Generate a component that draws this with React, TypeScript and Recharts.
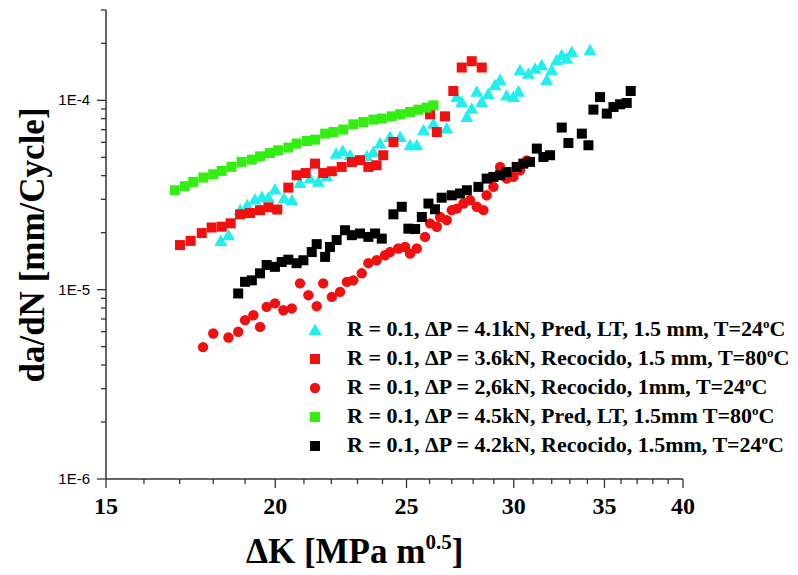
import React from "react";
import { ScatterChart, Scatter, XAxis, YAxis, Legend } from "recharts";

const SERIF = "'Liberation Serif', 'Times New Roman', serif";
const SANS = "'Liberation Sans', Arial, sans-serif";

const CYAN = "#22EEEE";
const RED = "#F01010";
const GREEN = "#33EE11";
const BLACK = "#000000";
const AXIS = "#333333";

// x ticks (ΔK), every integer, labels every 5
const xTicks = [15, 16, 17, 18, 19, 20, 21, 22, 23, 24, 25, 26, 27, 28, 29, 30, 31, 32, 33, 34, 35, 36, 37, 38, 39, 40];
const xLabeled = [15, 20, 25, 30, 35, 40];

// y ticks (da/dN), log decades with minor ticks
const yTicks = [
  1e-6, 2e-6, 3e-6, 4e-6, 5e-6, 6e-6, 7e-6, 8e-6, 9e-6,
  1e-5, 2e-5, 3e-5, 4e-5, 5e-5, 6e-5, 7e-5, 8e-5, 9e-5,
  1e-4, 2e-4, 3e-4,
];
const yLabeled = [1e-6, 1e-5, 1e-4];
const yLabels = ["1E-6", "1E-5", "1E-4"];

// [ΔK, da/dN]
const pred41kN24C: [number, number][] = [
  [18.23, 1.81e-5], [18.47, 1.94e-5], [18.84, 2.63e-5], [19.07, 2.79e-5], [19.32, 2.99e-5],
  [19.55, 3.09e-5], [19.77, 3.07e-5], [19.99, 3.38e-5], [20.3, 3.03e-5], [20.57, 2.97e-5],
  [20.86, 3.66e-5], [21.22, 3.86e-5], [21.52, 3.71e-5], [21.83, 3.97e-5], [22.18, 5.23e-5],
  [22.43, 5.4e-5], [22.71, 5.13e-5], [23.37, 5.06e-5], [23.63, 5.34e-5], [23.9, 5.91e-5],
  [24.31, 6.4e-5], [24.73, 6.4e-5], [25.15, 5.79e-5], [25.44, 5.79e-5], [25.73, 6.95e-5],
  [26.17, 7.53e-5], [26.77, 7.09e-5], [27.23, 1.04e-4], [27.46, 9.8e-5], [27.7, 8.16e-5],
  [27.93, 9.04e-5], [28.17, 1.11e-4], [28.41, 9.8e-5], [28.73, 1.08e-4], [29.06, 1.2e-4],
  [29.31, 1.28e-4], [29.64, 1.06e-4], [29.98, 1.04e-4], [30.24, 1.11e-4], [30.32, 1.44e-4],
  [30.75, 1.38e-4], [31.11, 1.47e-4], [31.46, 1.53e-4], [31.73, 1.28e-4], [32.0, 1.44e-4],
  [32.27, 1.63e-4], [32.55, 1.73e-4], [32.83, 1.66e-4], [33.11, 1.8e-4], [34.15, 1.84e-4],
];

const rec36kN80C: [number, number][] = [
  [17.01, 1.72e-5], [17.32, 1.81e-5], [17.65, 1.99e-5], [17.95, 2.13e-5], [18.26, 2.15e-5],
  [18.54, 2.24e-5], [18.84, 2.5e-5], [19.16, 2.54e-5], [19.49, 2.63e-5], [19.77, 2.72e-5],
  [20.07, 2.65e-5], [20.45, 3.46e-5], [20.74, 4.02e-5], [21.06, 4.13e-5], [21.4, 4.63e-5],
  [21.7, 4.13e-5], [22.02, 4.22e-5], [22.39, 4.45e-5], [22.78, 4.72e-5], [23.1, 4.83e-5],
  [23.43, 4.45e-5], [23.76, 4.54e-5], [24.03, 5.13e-5], [24.45, 6.02e-5], [26.02, 8.44e-5],
  [26.32, 6.8e-5], [26.69, 8.23e-5], [27.07, 1.12e-4], [27.46, 1.49e-4], [27.93, 1.61e-4],
  [28.41, 1.49e-4],
];

const rec26kN24C: [number, number][] = [
  [17.69, 4.97e-6], [18.0, 5.87e-6], [18.47, 5.59e-6], [18.78, 5.99e-6], [19.0, 6.9e-6],
  [19.27, 7.33e-6], [19.49, 6.36e-6], [19.71, 8.11e-6], [19.99, 8.46e-6], [20.28, 7.79e-6],
  [20.57, 7.96e-6], [20.86, 1.08e-5], [21.16, 9.35e-6], [21.46, 8.18e-6], [21.7, 1.08e-5],
  [22.02, 9.16e-6], [22.33, 9.74e-6], [22.59, 1.1e-5], [22.84, 1.12e-5], [23.17, 1.22e-5],
  [23.43, 1.38e-5], [23.76, 1.43e-5], [24.1, 1.52e-5], [24.31, 1.58e-5], [24.65, 1.65e-5],
  [24.94, 1.68e-5], [25.15, 1.55e-5], [25.44, 1.65e-5], [25.8, 1.9e-5], [26.02, 2.24e-5],
  [26.32, 2.15e-5], [26.47, 2.42e-5], [26.77, 2.33e-5], [27.0, 2.63e-5], [27.23, 2.68e-5],
  [27.54, 2.85e-5], [27.85, 2.97e-5], [28.17, 2.74e-5], [28.49, 2.63e-5], [28.65, 3.15e-5],
  [28.98, 3.49e-5], [29.31, 4.45e-5], [29.64, 3.86e-5], [29.98, 3.94e-5], [30.32, 4.27e-5],
  [30.67, 4.82e-5],
];

const pred45kN80C: [number, number][] = [
  [16.86, 3.35e-5], [17.15, 3.52e-5], [17.4, 3.71e-5], [17.7, 3.91e-5], [18.0, 4.07e-5],
  [18.26, 4.24e-5], [18.57, 4.45e-5], [18.89, 4.73e-5], [19.22, 4.86e-5], [19.49, 5.06e-5],
  [19.82, 5.27e-5], [20.1, 5.45e-5], [20.45, 5.63e-5], [20.74, 5.91e-5], [21.1, 6.1e-5],
  [21.4, 6.2e-5], [21.77, 6.67e-5], [22.08, 6.8e-5], [22.45, 7.01e-5], [22.84, 7.47e-5],
  [23.23, 7.68e-5], [23.63, 7.91e-5], [23.97, 8.01e-5], [24.38, 8.23e-5], [24.73, 8.44e-5],
  [25.15, 8.68e-5], [25.51, 8.93e-5], [25.87, 9.15e-5], [26.17, 9.41e-5],
];

const rec42kN24C: [number, number][] = [
  [18.78, 9.55e-6], [19.0, 1.1e-5], [19.22, 1.12e-5], [19.49, 1.22e-5], [19.71, 1.35e-5],
  [19.99, 1.32e-5], [20.22, 1.4e-5], [20.45, 1.44e-5], [20.74, 1.38e-5], [20.98, 1.43e-5],
  [21.28, 1.58e-5], [21.46, 1.74e-5], [21.77, 1.49e-5], [21.95, 1.68e-5], [22.2, 1.83e-5],
  [22.52, 2.06e-5], [22.78, 1.94e-5], [23.1, 1.98e-5], [23.43, 1.9e-5], [23.7, 1.98e-5],
  [23.97, 1.86e-5], [24.45, 2.5e-5], [24.8, 2.74e-5], [25.08, 2.1e-5], [25.37, 2.09e-5],
  [25.66, 2.42e-5], [25.95, 2.85e-5], [26.24, 2.66e-5], [26.54, 3.06e-5], [27.0, 3.15e-5],
  [27.38, 3.22e-5], [27.7, 3.35e-5], [28.25, 3.49e-5], [28.65, 3.86e-5], [28.98, 3.94e-5],
  [29.31, 4.02e-5], [29.64, 4.18e-5], [30.15, 4.45e-5], [30.49, 4.63e-5], [30.84, 4.73e-5],
  [31.2, 5.56e-5], [31.55, 5.02e-5], [31.91, 5.13e-5], [32.55, 7.18e-5], [32.92, 5.95e-5],
  [33.68, 6.67e-5], [34.06, 5.79e-5], [34.35, 8.93e-5], [34.74, 1.04e-4], [35.14, 8.51e-5],
  [35.54, 9.22e-5], [35.94, 9.53e-5], [36.35, 9.68e-5], [36.6, 1.12e-4],
];

type MarkerKind = "triangle" | "square" | "circle";

const seriesList: { name: string; temp: string; marker: MarkerKind; color: string; points: [number, number][] }[] = [
  { name: "R = 0.1, ΔP = 4.1kN, Pred, LT, 1.5 mm, T=", temp: "24", marker: "triangle", color: CYAN, points: pred41kN24C },
  { name: "R = 0.1, ΔP = 3.6kN, Recocido, 1.5 mm, T=", temp: "80", marker: "square", color: RED, points: rec36kN80C },
  { name: "R = 0.1, ΔP = 2,6kN, Recocido, 1mm, T=", temp: "24", marker: "circle", color: RED, points: rec26kN24C },
  { name: "R = 0.1, ΔP = 4.5kN, Pred, LT, 1.5mm T=", temp: "80", marker: "square", color: GREEN, points: pred45kN80C },
  { name: "R = 0.1, ΔP = 4.2kN, Recocido, 1.5mm, T=", temp: "24", marker: "square", color: BLACK, points: rec42kN24C },
];

function Marker({ kind, color, cx, cy }: { kind: MarkerKind; color: string; cx: number; cy: number }) {
  if (kind === "triangle") {
    return <polygon points={`${cx},${cy - 6.5} ${cx - 6.5},${cy + 5} ${cx + 6.5},${cy + 5}`} fill={color} />;
  }
  if (kind === "square") {
    return <rect x={cx - 5} y={cy - 5} width={10} height={10} fill={color} />;
  }
  return <circle cx={cx} cy={cy} r={5.2} fill={color} />;
}

const near = (a: number, b: number) => Math.abs(a - b) <= Math.abs(b) * 1e-6;

function XTick(props: any) {
  const { x, y, payload } = props;
  const major = xLabeled.some((v) => near(payload.value, v));
  return (
    <g>
      <line x1={x} x2={x} y1={y} y2={y + (major ? 9 : 5)} stroke={AXIS} strokeWidth={1.3} />
      {major && (
        <text x={x} y={y + 35} textAnchor="middle" fontFamily={SERIF} fontWeight="bold" fontSize={24} fill="#000">
          {payload.value}
        </text>
      )}
    </g>
  );
}

function YTick(props: any) {
  const { x, y, payload } = props;
  const idx = yLabeled.findIndex((v) => near(payload.value, v));
  const major = idx >= 0;
  return (
    <g>
      <line x1={x - (major ? 9 : 5)} x2={x} y1={y} y2={y} stroke={AXIS} strokeWidth={1.3} />
      {major && (
        <text x={x - 16} y={y + 5} textAnchor="end" fontFamily={SANS} fontSize={15} fill="#000">
          {yLabels[idx]}
        </text>
      )}
    </g>
  );
}

function LegendBox() {
  return (
    <div style={{ fontFamily: SERIF, fontWeight: "bold", fontSize: 22, color: "#000" }}>
      {seriesList.map((s) => (
        <div key={s.name + s.temp} style={{ display: "flex", alignItems: "center", height: 29.2, whiteSpace: "nowrap" }}>
          <svg width={20} height={20} style={{ flex: "none" }}>
            <Marker kind={s.marker} color={s.color} cx={10} cy={10} />
          </svg>
          <span style={{ marginLeft: 22, lineHeight: "29px" }}>
            {s.name}
            {s.temp}
            <span style={{ fontSize: 13, position: "relative", top: -8 }}>o</span>C
          </span>
        </div>
      ))}
    </div>
  );
}

export default function App() {
  return (
    <div style={{ position: "absolute", left: 0, top: 0, width: 798, height: 575, background: "#fff", overflow: "hidden" }}>
      <ScatterChart width={798} height={575} margin={{ top: 10, right: 115, bottom: 36, left: 46 }}>
        <XAxis
          type="number"
          dataKey="k"
          scale="log"
          domain={[15, 40]}
          allowDataOverflow
          ticks={xTicks}
          interval={0}
          tickSize={0}
          tickMargin={0}
          tickLine={false}
          tick={<XTick />}
          height={60}
          axisLine={{ stroke: AXIS, strokeWidth: 1.5 }}
        />
        <YAxis
          type="number"
          dataKey="v"
          scale="log"
          domain={[1e-6, 3e-4]}
          allowDataOverflow
          ticks={yTicks}
          interval={0}
          tickSize={0}
          tickMargin={0}
          tickLine={false}
          tick={<YTick />}
          width={60}
          axisLine={{ stroke: AXIS, strokeWidth: 1.5 }}
        />
        <Legend
          layout="vertical"
          align="center"
          verticalAlign="middle"
          wrapperStyle={{ left: 305, top: 315, width: 493 }}
          content={() => <LegendBox />}
        />
        {seriesList.map((s) => (
          <Scatter
            key={s.name + s.temp}
            name={s.name + s.temp}
            data={s.points.map(([k, v]) => ({ k, v }))}
            isAnimationActive={false}
            shape={(p: any) => <Marker kind={s.marker} color={s.color} cx={p.cx} cy={p.cy} />}
          />
        ))}
      </ScatterChart>
      <div
        style={{
          position: "absolute",
          left: 246,
          top: 532,
          fontFamily: SERIF,
          fontWeight: "bold",
          fontSize: 35,
          lineHeight: "40px",
          whiteSpace: "nowrap",
        }}
      >
        ΔK [MPa m<span style={{ fontSize: 21, position: "relative", top: -14 }}>0.5</span>]
      </div>
      <div
        style={{
          position: "absolute",
          left: 33,
          top: 245,
          transform: "translate(-50%, -50%) rotate(-90deg)",
          fontFamily: SERIF,
          fontWeight: "bold",
          fontSize: 35,
          lineHeight: "40px",
          whiteSpace: "nowrap",
        }}
      >
        da/dN [mm/Cycle]
      </div>
    </div>
  );
}
